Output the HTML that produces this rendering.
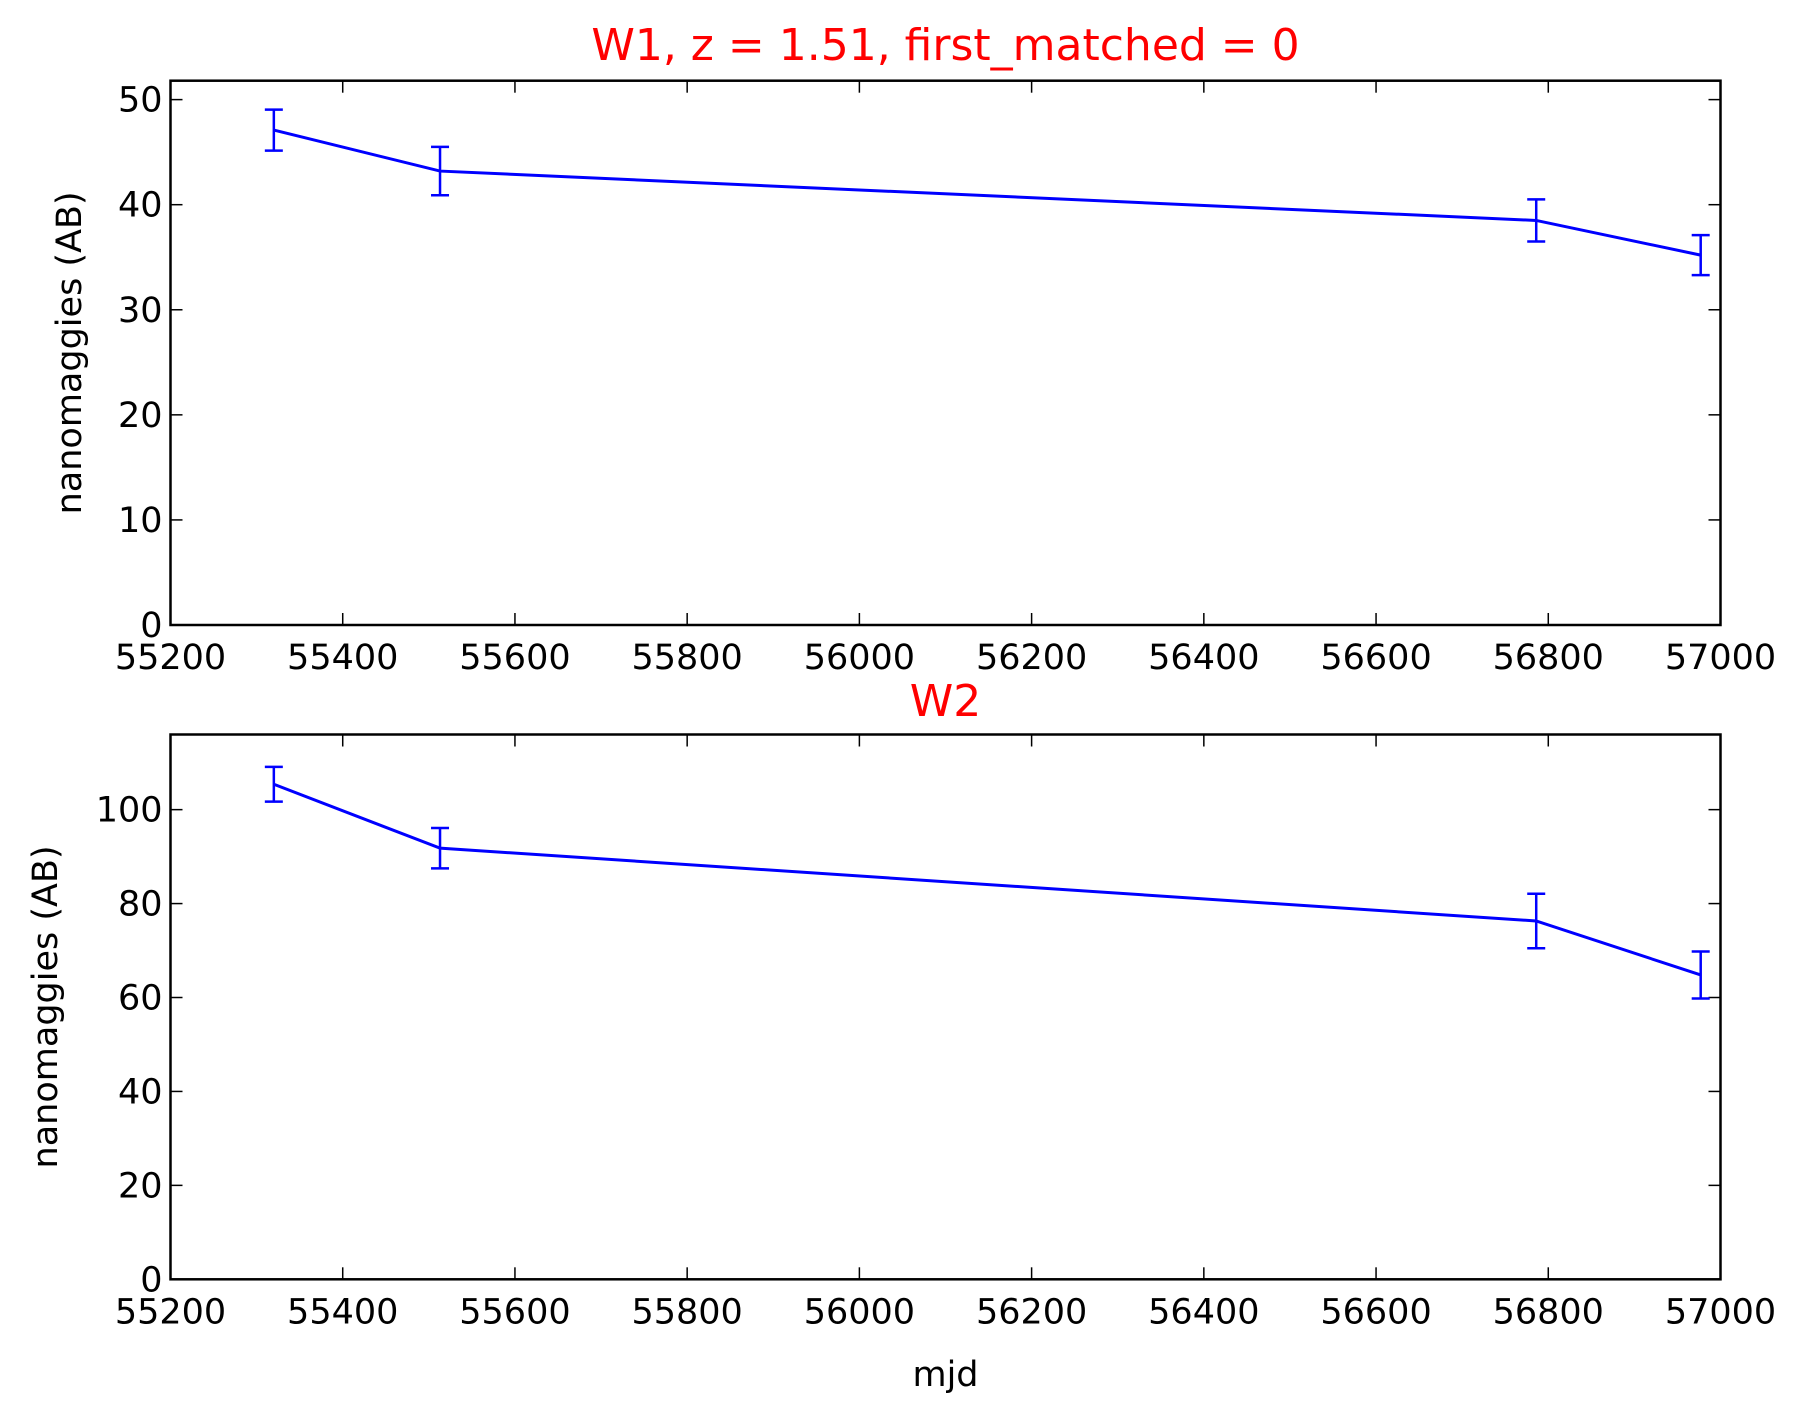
<!DOCTYPE html>
<html><head><meta charset="utf-8"><style>body{margin:0;background:#fff}svg{display:block;font-family:"DejaVu Sans","Liberation Sans",sans-serif}</style></head>
<body>
<svg id="chart" width="1808" height="1420" xmlns="http://www.w3.org/2000/svg"></svg>
<script>
const mjd = [55320, 55513, 56786, 56977];
const w1Flux = [47.1, 43.2, 38.5, 35.2];
const w1Err = [1.95, 2.3, 2.0, 1.9];
const w2Flux = [105.4, 91.8, 76.3, 64.8];
const w2Err = [3.7, 4.3, 5.8, 5.0];
const xTicks = [55200, 55400, 55600, 55800, 56000, 56200, 56400, 56600, 56800, 57000];
const w1YTicks = [0, 10, 20, 30, 40, 50];
const w2YTicks = [0, 20, 40, 60, 80, 100];

const svg = document.getElementById('chart');
const NS = 'http://www.w3.org/2000/svg';
function mk(tag, attrs, text){const e=document.createElementNS(NS,tag);for(const k in attrs)e.setAttribute(k,attrs[k]);if(text!==undefined)e.textContent=text;svg.appendChild(e);return e;}

const L=170.5, R=1720.5, X0=55200, X1=57000;
const xs = v => L + (v-X0)/(X1-X0)*(R-L);

function panel(prefix, top, bottom, ymax, yTicks, flux, err, title, titleY, ylabelX){
  const ys = v => bottom - v/ymax*(bottom-top);
  let e;
  e=mk('rect',{x:L,y:top,width:R-L,height:bottom-top,fill:'none',stroke:'#000','stroke-width':2.5});
  
  
  xTicks.forEach(t=>{
    const x=xs(t);
    mk('line',{x1:x,y1:bottom,x2:x,y2:bottom-12,stroke:'#000','stroke-width':1.5});
    mk('line',{x1:x,y1:top,x2:x,y2:top+12,stroke:'#000','stroke-width':1.5});
    e=mk('text',{x:x,y:bottom+44,'text-anchor':'middle','font-size':35},String(t));
    
    
  });
  yTicks.forEach(t=>{
    const y=ys(t);
    mk('line',{x1:L,y1:y,x2:L+12,y2:y,stroke:'#000','stroke-width':1.5});
    mk('line',{x1:R,y1:y,x2:R-12,y2:y,stroke:'#000','stroke-width':1.5});
    e=mk('text',{x:L-8,y:y+12,'text-anchor':'end','font-size':35},String(t));
    
    
  });
  const pts = mjd.map((m,i)=>xs(m)+','+ys(flux[i])).join(' ');
  e=mk('polyline',{points:pts,fill:'none',stroke:'#0000ff','stroke-width':3});
  
  
  mjd.forEach((m,i)=>{
    const x=xs(m), y1=ys(flux[i]-err[i]), y2=ys(flux[i]+err[i]);
    const g=document.createElementNS(NS,'g');
    
    
    [[x,y1,x,y2],[x-9,y1,x+9,y1],[x-9,y2,x+9,y2]].forEach(c=>{
      const l=document.createElementNS(NS,'line');
      l.setAttribute('x1',c[0]);l.setAttribute('y1',c[1]);l.setAttribute('x2',c[2]);l.setAttribute('y2',c[3]);
      l.setAttribute('stroke','#0000ff');l.setAttribute('stroke-width',2.5);
      g.appendChild(l);
    });
    svg.appendChild(g);
  });
  e=mk('text',{x:(L+R)/2,y:titleY,'text-anchor':'middle','font-size':44,fill:'#ff0000'},title);
  
  
  const cy=(top+bottom)/2;
  e=mk('text',{x:ylabelX,y:cy,'text-anchor':'middle','font-size':35,transform:'rotate(-90 '+ylabelX+' '+cy+')'},'nanomaggies (AB)');
  
  
}
panel('w1', 80.7, 625, 51.8, w1YTicks, w1Flux, w1Err, 'W1, z = 1.51, first_matched = 0', 60, 81);
panel('w2', 734.5, 1279.3, 116, w2YTicks, w2Flux, w2Err, 'W2', 716, 57);
const xl=mk('text',{x:(L+R)/2,y:1386,'text-anchor':'middle','font-size':35},'mjd');


</script>
</body></html>
